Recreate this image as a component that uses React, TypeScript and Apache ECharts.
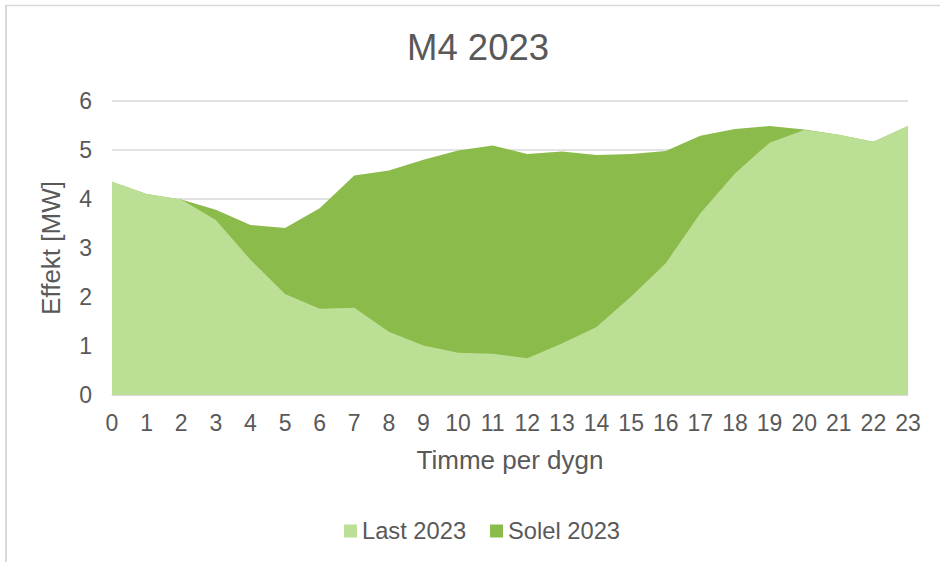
import React, { useEffect, useRef } from "react";
import * as echarts from "echarts";

const hours = ["0","1","2","3","4","5","6","7","8","9","10","11","12","13","14","15","16","17","18","19","20","21","22","23"];
const last2023 = [4.35, 4.10, 3.99, 3.57, 2.76, 2.06, 1.76, 1.78, 1.29, 1.01, 0.86, 0.84, 0.75, 1.05, 1.39, 2.01, 2.69, 3.71, 4.52, 5.15, 5.41, 5.31, 5.17, 5.49];
const solel2023 = [4.35, 4.10, 3.99, 3.78, 3.47, 3.41, 3.81, 4.48, 4.58, 4.80, 4.99, 5.09, 4.92, 4.97, 4.90, 4.92, 4.98, 5.29, 5.43, 5.49, 5.42, 5.31, 5.17, 5.49];
const seriesNames = ["Last 2023", "Solel 2023"];
const titleText = "M4 2023";
const xAxisName = "Timme per dygn";
const yAxisName = "Effekt [MW]";

const LIGHT = "#bcdf96";
const DARK = "#8bbb4a";
const TEXT = "#595959";
const FONT = "'Liberation Sans', Arial, sans-serif";

export default function App() {
  const ref = useRef<HTMLDivElement>(null);
  useEffect(() => {
    if (!ref.current) return;
    const chart = echarts.init(ref.current, undefined, { renderer: "svg" });
    chart.setOption({
      animation: false,
      backgroundColor: "#ffffff",
      textStyle: { fontFamily: FONT },
      title: {
        text: titleText,
        left: 478,
        textAlign: "center",
        top: 29,
        padding: 0,
        textStyle: { fontSize: 36.5, fontWeight: "normal", color: TEXT, fontFamily: FONT },
      },
      legend: {
        data: [seriesNames[0], seriesNames[1]],
        left: 344,
        top: 519,
        padding: 0,
        itemWidth: 13,
        itemHeight: 13,
        itemGap: 24,
        icon: "rect",
        textStyle: { fontSize: 23.7, color: TEXT, fontFamily: FONT, padding: [0, 0, 0, 0] },
      },
      grid: { left: 112, right: 32, top: 101, bottom: 167, containLabel: false },
      xAxis: {
        type: "category",
        data: hours,
        boundaryGap: false,
        name: xAxisName,
        nameLocation: "middle",
        nameGap: 52,
        nameTextStyle: { fontSize: 26, color: TEXT, fontFamily: FONT },
        axisLine: { show: true, lineStyle: { color: "#d9d9d9", width: 1.5 } },
        axisTick: { show: false },
        axisLabel: { fontSize: 23, color: TEXT, margin: 16, fontFamily: FONT, interval: 0 },
        splitLine: { show: false },
      },
      yAxis: {
        type: "value",
        min: 0,
        max: 6,
        interval: 1,
        name: yAxisName,
        nameLocation: "middle",
        nameGap: 48,
        nameTextStyle: { fontSize: 26, color: TEXT, fontFamily: FONT },
        axisLine: { show: false },
        axisTick: { show: false },
        axisLabel: { fontSize: 23, color: TEXT, margin: 20, fontFamily: FONT },
        splitLine: { show: true, lineStyle: { color: "#d9d9d9", width: 1.5 } },
      },
      series: [
        {
          name: seriesNames[1],
          type: "line",
          data: solel2023,
          symbol: "none",
          lineStyle: { width: 0, color: DARK },
          itemStyle: { color: DARK },
          areaStyle: { color: DARK, opacity: 1 },
          z: 2,
        },
        {
          name: seriesNames[0],
          type: "line",
          data: last2023,
          symbol: "none",
          lineStyle: { width: 0, color: LIGHT },
          itemStyle: { color: LIGHT },
          areaStyle: { color: LIGHT, opacity: 1 },
          z: 3,
        },
      ],
      graphic: [
        { type: "line", shape: { x1: 6, y1: 5, x2: 6, y2: 562 }, style: { stroke: "#d9d9d9", lineWidth: 2 } },
        { type: "line", shape: { x1: 5, y1: 5.5, x2: 940, y2: 5.5 }, style: { stroke: "#d9d9d9", lineWidth: 1.5 } },
      ],
    });
    return () => chart.dispose();
  }, []);
  return (
    <div
      ref={ref}
      style={{ position: "fixed", left: 0, top: 0, width: 940, height: 562 }}
    />
  );
}
